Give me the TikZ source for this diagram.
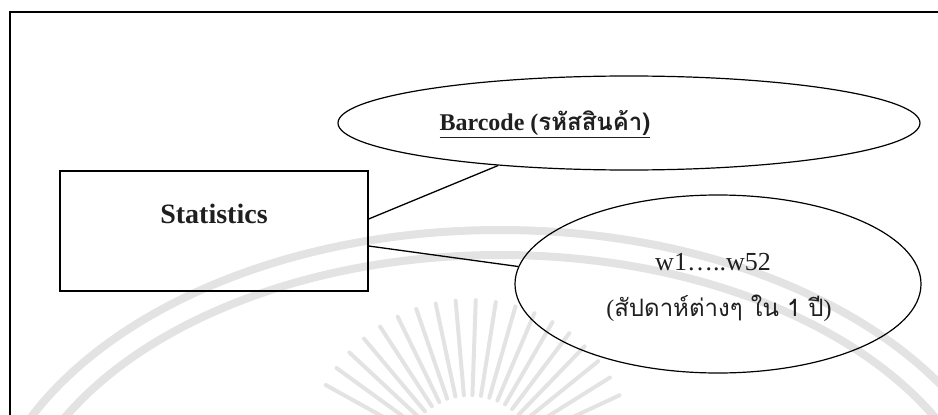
\documentclass[tikz,border=0pt]{standalone}
\usepackage{fontspec}
\setmainfont{Liberation Serif}
\newfontfamily\thaifont[Script=Thai]{Loma}
\usetikzlibrary{shapes.geometric}
\tikzset{
  frameline/.style={draw=black, line width=1.2pt},
  entitybox/.style={draw=black, line width=1.3pt, rectangle, inner sep=0pt,
    minimum width=308pt, minimum height=120pt},
  attrell/.style={draw=black, line width=1.2pt, ellipse, inner sep=0pt},
  link/.style={draw=black, line width=1.3pt},
  lbl/.style={inner sep=0pt, text=black!88},
  wmark/.style={draw=black!11, line cap=round},
}
\begin{document}
\begin{tikzpicture}[x=1pt,y=-1pt]
\useasboundingbox (0,0) rectangle (938,415);
\clip (0,0) rectangle (938,415);
% faint watermark
\draw[wmark, line width=8pt] (500,560) ellipse[x radius=520, y radius=330];
\draw[wmark, line width=8pt] (500,560) ellipse[x radius=492, y radius=305];
\foreach \a in {25,32,...,155}{
  \draw[wmark, line width=4pt] ({470+70*cos(\a)},{465-70*sin(\a)}) -- ({470+165*cos(\a)},{465-165*sin(\a)});
}
% outer frame
\draw[frameline] (10,430) -- (10,12) -- (950,12);
% entity
\node[entitybox] (stat) at (214,231) {};
\node[lbl, font=\fontsize{28}{32}\selectfont\bfseries] (stattxt) at (214,214) {Statistics};
% barcode attribute
\node[attrell, minimum width=582pt, minimum height=94pt] (bc) at (629,123) {};
\node[lbl, font=\fontsize{24}{28}\selectfont\bfseries] (bctxt) at (545,124)
  {\underline{Barcode (\thaifont รหัสสินค้า)}};
% week attribute
\node[attrell, minimum width=406pt, minimum height=178pt] (wk) at (718,284) {};
\node[lbl, font=\fontsize{26}{30}\selectfont] (wktxt1) at (713,262) {w1…..w52};
\node[lbl, font=\fontsize{24}{28}\selectfont] (wktxt2) at (719,308) {(\thaifont สัปดาห์ต่างๆ ใน 1 ปี\rmfamily)};
% connectors
\draw[link] ([yshift=12pt]stat.east) -- (bc.198);
\draw[link] ([yshift=-15pt]stat.east) -- (wk.175);
\end{tikzpicture}
\end{document}
